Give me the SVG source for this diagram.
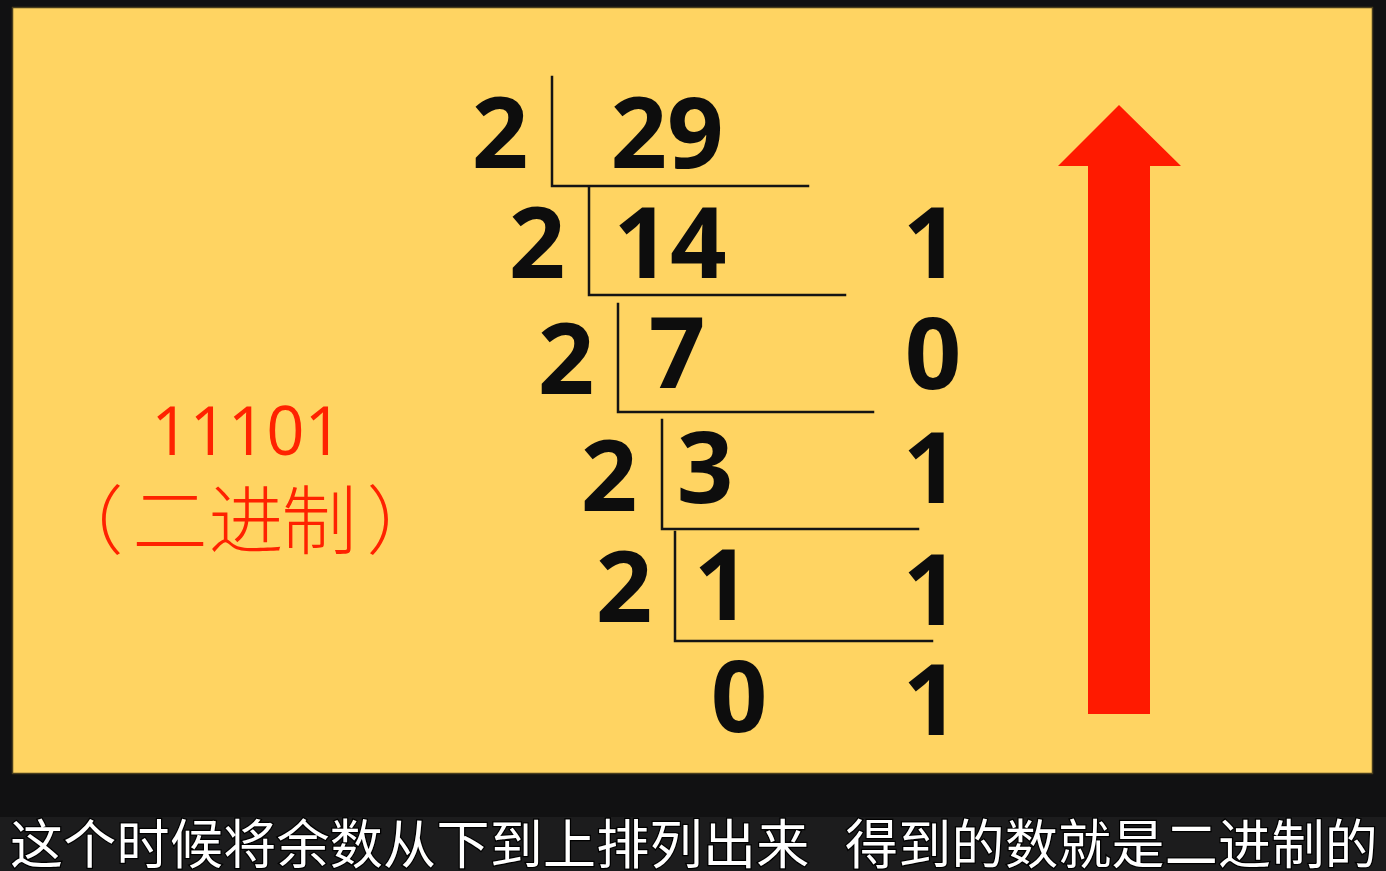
<svg xmlns="http://www.w3.org/2000/svg" width="1386" height="871" viewBox="0 0 1386 871">
  <style>
    .num { font-family: "Open Sans", "Liberation Sans", sans-serif; font-weight: 700; font-size: 99px; fill: #0d0d0d; text-anchor: middle; }
    .rule { stroke: #141414; stroke-width: 2.5; fill: none; stroke-linecap: square; }
    .res { font-family: "Open Sans", "Liberation Sans", sans-serif; font-weight: 400; font-size: 67px; fill: #ff2200; text-anchor: middle; }
    .cjk { font-family: "Noto Sans CJK SC", sans-serif; font-weight: 300; font-size: 75px; fill: #ff2200; text-anchor: middle; }
    .sub { font-family: "Noto Sans CJK SC", sans-serif; font-weight: 400; font-size: 53px; fill: #ffffff; stroke: #000000; stroke-width: 2.5; paint-order: stroke; letter-spacing: 0.3px; }
  </style>
  <rect x="0" y="0" width="1386" height="871" fill="#111112"/>
  <rect x="0" y="817" width="1386" height="54" fill="#1c1c1d"/>
  <rect id="board" x="12.5" y="7.5" width="1360" height="766" fill="#ffd462" stroke="#4a3f1e" stroke-width="1.5"/>

  <g id="connectors">
    <polyline class="rule" points="552,77 552,186 808,186"/>
    <polyline class="rule" points="589,187 589,295 845,295"/>
    <polyline class="rule" points="618,304 618,412 873,412"/>
    <polyline class="rule" points="662,420 662,529 918,529"/>
    <polyline class="rule" points="675,532 675,641 932,641"/>
  </g>

  <g id="row1">
    <text class="num" x="500" y="168">2</text>
    <text class="num" x="667" y="168">29</text>
  </g>
  <g id="row2">
    <text class="num" x="537" y="278">2</text>
    <text class="num" x="670" y="278">14</text>
    <text class="num" x="931" y="278">1</text>
  </g>
  <g id="row3">
    <text class="num" x="566" y="394">2</text>
    <text class="num" x="677" y="388">7</text>
    <text class="num" x="933" y="389">0</text>
  </g>
  <g id="row4">
    <text class="num" x="609" y="511">2</text>
    <text class="num" x="705" y="503">3</text>
    <text class="num" x="931" y="503">1</text>
  </g>
  <g id="row5">
    <text class="num" x="624" y="622">2</text>
    <text class="num" x="722" y="620">1</text>
    <text class="num" x="931" y="625">1</text>
  </g>
  <g id="row6">
    <text class="num" x="739" y="732">0</text>
    <text class="num" x="931" y="735">1</text>
  </g>

  <g id="result">
    <text class="res" x="247" y="455">11101</text>
    <text class="cjk" y="548"><tspan x="86">（</tspan><tspan x="170">二</tspan><tspan x="246">进</tspan><tspan x="319">制</tspan><tspan x="404">）</tspan></text>
  </g>

  <g id="arrow">
    <polygon points="1119,105 1181,166 1150,166 1150,714 1088,714 1088,166 1058,166" fill="#ff1a00"/>
  </g>

  <g id="subtitle">
    <text class="sub" x="10" y="864">这个时候将余数从下到上排列出来</text>
    <text class="sub" x="845" y="864">得到的数就是二进制的</text>
  </g>
</svg>
